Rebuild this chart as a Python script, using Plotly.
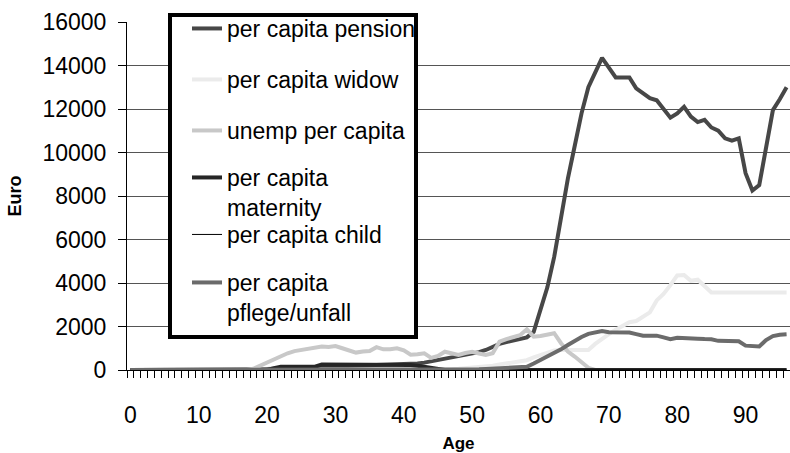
import plotly.graph_objects as go

ages = list(range(0, 97))

# per capita values by age (Euro)
pension = [0] * 18 + [
    20, 40, 50, 60, 70, 80, 100, 110, 120, 140, 150, 160, 170, 180, 180, 190, 200, 210, 220, 230,  # 18-37
    230, 240, 240, 260, 300, 340, 400, 440, 480, 540, 600, 660, 730, 820, 920, 1060, 1200, 1280,  # 38-55
    1360, 1430, 1500, 1750, 2800, 3800, 5200, 7000, 8800, 10300, 11800, 13000, 13700, 14350,      # 56-69
    13900, 13450, 13450, 13450, 12950, 12750, 12500, 12400, 12000, 11600, 11800, 12100, 11650,    # 70-82
    11400, 11500, 11150, 11000, 10650, 10550, 10650, 9050, 8250, 8500, 10200, 11950, 12450, 13000]  # 83-96

widow = [0] * 45 + [
    20, 30, 40, 60, 80, 100, 130, 160, 200, 250, 300, 350, 400, 450, 580, 700, 800, 900, 920,  # 45-63
    920, 920, 920, 920, 1200, 1450, 1650, 1850, 2050, 2200, 2250, 2450, 2650, 3200, 3500, 3900,  # 64-79
    4350, 4370, 4100, 4150, 3850, 3560, 3560, 3560, 3560, 3560, 3560, 3560, 3560, 3560, 3560,   # 80-94
    3560, 3560]

unemp = [0] * 18 + [
    60, 200, 380, 530, 650, 770, 870, 920, 950, 1030, 1080, 1060, 1100, 1000, 900, 800, 850,  # 18-34
    870, 1050, 950, 950, 1000, 900, 700, 720, 770, 560, 650, 840, 760, 690, 780, 840, 760,    # 35-51
    690, 770, 1300, 1420, 1500, 1600, 1870, 1530, 1560, 1620, 1690, 1230, 850, 620, 380, 100]  # 52-67
unemp += [0] * (len(ages) - len(unemp))

maternity = [0] * 21 + [80, 150, 150, 150, 150, 150, 150] + [250] * 13 + [230, 200, 150, 100, 50]
maternity += [0] * (len(ages) - len(maternity))

child = [0] * len(ages)

pflege = [0] * 50 + [
    30, 40, 50, 60, 70, 80, 90, 100, 150, 300, 460, 600, 770, 950, 1150, 1350, 1520, 1660,  # 50-67
    1740, 1790, 1740, 1720, 1720, 1720, 1650, 1580, 1580, 1580, 1500, 1420, 1480, 1480,      # 68-81
    1450, 1440, 1420, 1410, 1340, 1330, 1330, 1320, 1120, 1080, 1080, 1380, 1560, 1620, 1640]  # 82-96

# name, values, colour, line width, legend row (px from top)
series = [
    ("per capita pension", pension, "#474747", 4, 28),
    ("per capita widow", widow, "#ebebeb", 4, 79),
    ("unemp per capita", unemp, "#c8c8c8", 4, 130),
    ("per capita<br>maternity", maternity, "#262626", 4, 177),
    ("per capita child", child, "#000000", 1, 234),
    ("per capita<br>pflege/unfall", pflege, "#6b6b6b", 4, 282),
]

FONT = "Liberation Sans, Arial, sans-serif"
L, T, B = 127, 22, 83
H = 453 - T - B

fig = go.Figure()
layout_legends = {}
for i, (name, vals, col, w, ysym) in enumerate(series):
    key = "legend" if i == 0 else f"legend{i + 1}"
    fig.add_trace(go.Scatter(x=ages, y=vals, name=name, mode="lines",
                             line=dict(color=col, width=w), legend=key))
    layout_legends[key] = dict(
        x=(187 - L) / 663, xanchor="left",
        y=(370 - (ysym - 21)) / H, yanchor="top",
        bgcolor="rgba(0,0,0,0)", borderwidth=0, valign="top",
        font=dict(family=FONT, size=23, color="black"),
    )

# legend frame
fig.add_shape(type="rect", xref="paper", yref="paper",
              x0=(170 - L) / 663, x1=(416 - L) / 663,
              y0=(370 - 337) / H, y1=(370 - 15) / H,
              line=dict(color="black", width=4), fillcolor="white", layer="above")

fig.update_layout(
    width=790, height=453,
    margin=dict(l=L, r=0, t=T, b=B, autoexpand=False),
    paper_bgcolor="white", plot_bgcolor="white",
    font=dict(family=FONT, color="black"),
    showlegend=True,
    **layout_legends,
)
fig.update_xaxes(
    range=[-0.5, 96.5], tickmode="linear", tick0=0, dtick=10, ticks="",
    ticklabelstandoff=24, tickfont=dict(size=23), automargin=False,
    minor=dict(ticks="outside", tick0=-0.5, dtick=1, ticklen=7, tickcolor="black", showgrid=False),
    showline=True, linecolor="black", linewidth=1, showgrid=False, zeroline=False,
    title=dict(text="<b>Age</b>", font=dict(size=17), standoff=12),
)
fig.update_yaxes(
    range=[0, 16000], tickmode="linear", tick0=0, dtick=2000, tickformat="d",
    ticks="outside", ticklen=8, tickcolor="black", ticklabelstandoff=7,
    tickfont=dict(size=23), automargin=False,
    showline=True, linecolor="black", linewidth=1,
    showgrid=True, gridcolor="#555555", gridwidth=1, zeroline=False,
    title=dict(text="<b>Euro</b>", font=dict(size=18), standoff=16),
)

fig.write_html("out.html", config={"displayModeBar": False},
               post_script="document.body.style.margin='0';document.body.style.overflow='hidden';")
